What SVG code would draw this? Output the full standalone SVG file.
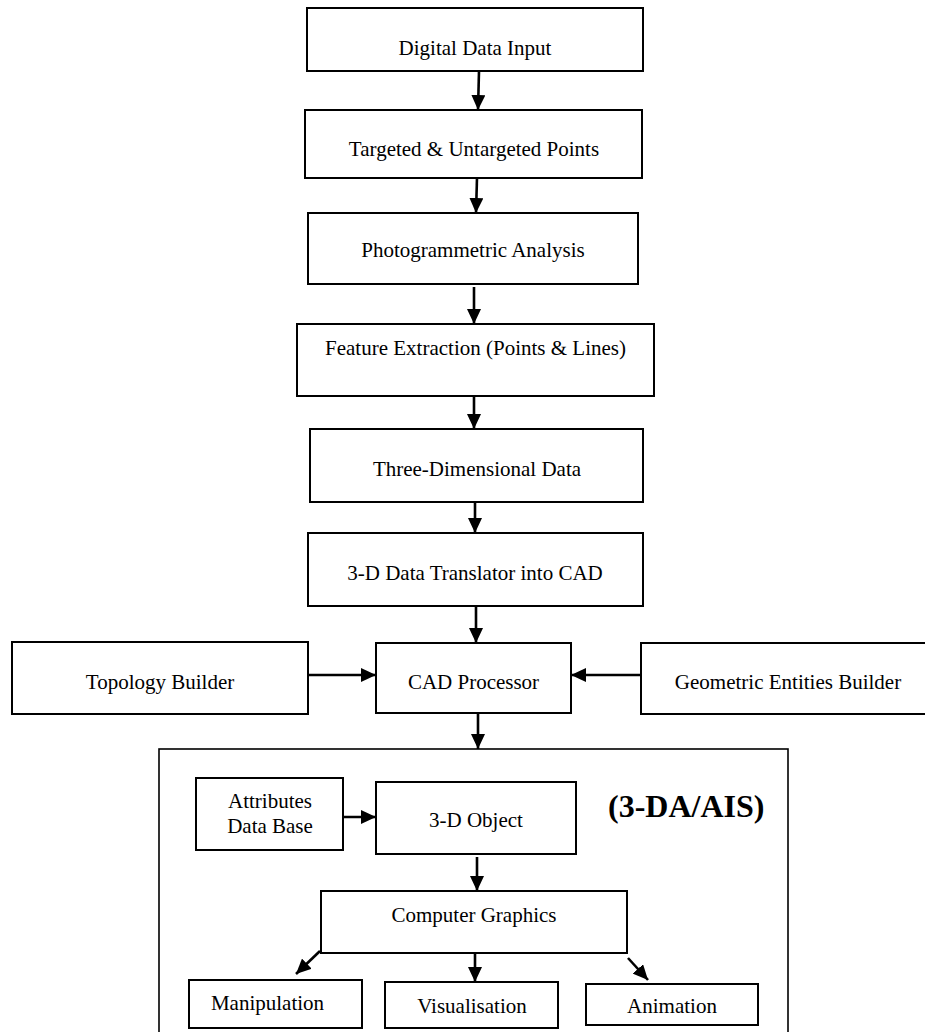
<svg xmlns="http://www.w3.org/2000/svg" width="925" height="1032" viewBox="0 0 925 1032">
<defs>
<style>
rect.box{fill:#fff;stroke:#000;stroke-width:2}
rect.outer{fill:none;stroke:#000;stroke-width:1.6}
text{font-family:"Liberation Serif","Times New Roman",serif;font-size:21px;fill:#000;text-anchor:middle}
text.big{font-weight:bold;font-size:32px;text-anchor:start}
line.arr{stroke:#000;stroke-width:2.6;marker-end:url(#ah)}
</style>
<marker id="ah" markerUnits="userSpaceOnUse" markerWidth="15" markerHeight="14" refX="15" refY="7" orient="auto">
<path d="M0,0 L15,7 L0,14 z" fill="#000"/>
</marker>
</defs>
<rect width="925" height="1032" fill="#fff"/>

<g id="outer-3da-ais">
<rect class="outer" x="159" y="749" width="629" height="300"/>
<text class="big" x="608" y="817">(3-DA/AIS)</text>
</g>

<g id="n-digital"><rect class="box" x="307" y="8" width="336" height="63"/><text x="475" y="55">Digital Data Input</text></g>
<g id="n-targeted"><rect class="box" x="305" y="110" width="337" height="68"/><text x="474" y="156">Targeted &amp; Untargeted Points</text></g>
<g id="n-photo"><rect class="box" x="308" y="213" width="330" height="71"/><text x="473" y="257">Photogrammetric Analysis</text></g>
<g id="n-feature"><rect class="box" x="297" y="324" width="357" height="72"/><text x="475.5" y="355">Feature Extraction (Points &amp; Lines)</text></g>
<g id="n-three"><rect class="box" x="310" y="429" width="333" height="73"/><text x="477" y="476">Three-Dimensional Data</text></g>
<g id="n-translator"><rect class="box" x="308" y="533" width="335" height="73"/><text x="475" y="580">3-D Data Translator into CAD</text></g>
<g id="n-topology"><rect class="box" x="12" y="642" width="296" height="72"/><text x="160" y="689">Topology Builder</text></g>
<g id="n-cad"><rect class="box" x="376" y="643" width="195" height="70"/><text x="473.5" y="689">CAD Processor</text></g>
<g id="n-geometric"><rect class="box" x="641" y="643" width="300" height="71"/><text x="788" y="689">Geometric Entities Builder</text></g>
<g id="n-attributes"><rect class="box" x="196" y="778" width="147" height="72"/><text x="270" y="808">Attributes</text><text x="270" y="833">Data Base</text></g>
<g id="n-object"><rect class="box" x="376" y="782" width="200" height="72"/><text x="476" y="827">3-D Object</text></g>
<g id="n-graphics"><rect class="box" x="321" y="891" width="306" height="62"/><text x="474" y="922">Computer Graphics</text></g>
<g id="n-manipulation"><rect class="box" x="189" y="980" width="173" height="48"/><text x="267.5" y="1010">Manipulation</text></g>
<g id="n-visualisation"><rect class="box" x="385" y="982" width="173" height="46"/><text x="472" y="1013">Visualisation</text></g>
<g id="n-animation"><rect class="box" x="586" y="984" width="172" height="41"/><text x="672" y="1013">Animation</text></g>

<g id="connectors">
<line class="arr" x1="479" y1="71" x2="478" y2="110"/>
<line class="arr" x1="477" y1="178" x2="476" y2="213"/>
<line class="arr" x1="474" y1="287" x2="474" y2="324"/>
<line class="arr" x1="474" y1="396" x2="474" y2="429"/>
<line class="arr" x1="475" y1="502" x2="475" y2="533"/>
<line class="arr" x1="476" y1="606" x2="476" y2="643"/>
<line class="arr" x1="308" y1="675" x2="376" y2="675"/>
<line class="arr" x1="641" y1="675" x2="571" y2="675"/>
<line class="arr" x1="478" y1="713" x2="478" y2="749"/>
<line class="arr" x1="343" y1="817" x2="376" y2="817"/>
<line class="arr" x1="477" y1="857" x2="477" y2="891"/>
<line class="arr" x1="320" y1="951" x2="296" y2="974"/>
<line class="arr" x1="475" y1="953" x2="475" y2="982"/>
<line class="arr" x1="628" y1="958" x2="648" y2="980"/>
</g>
</svg>
